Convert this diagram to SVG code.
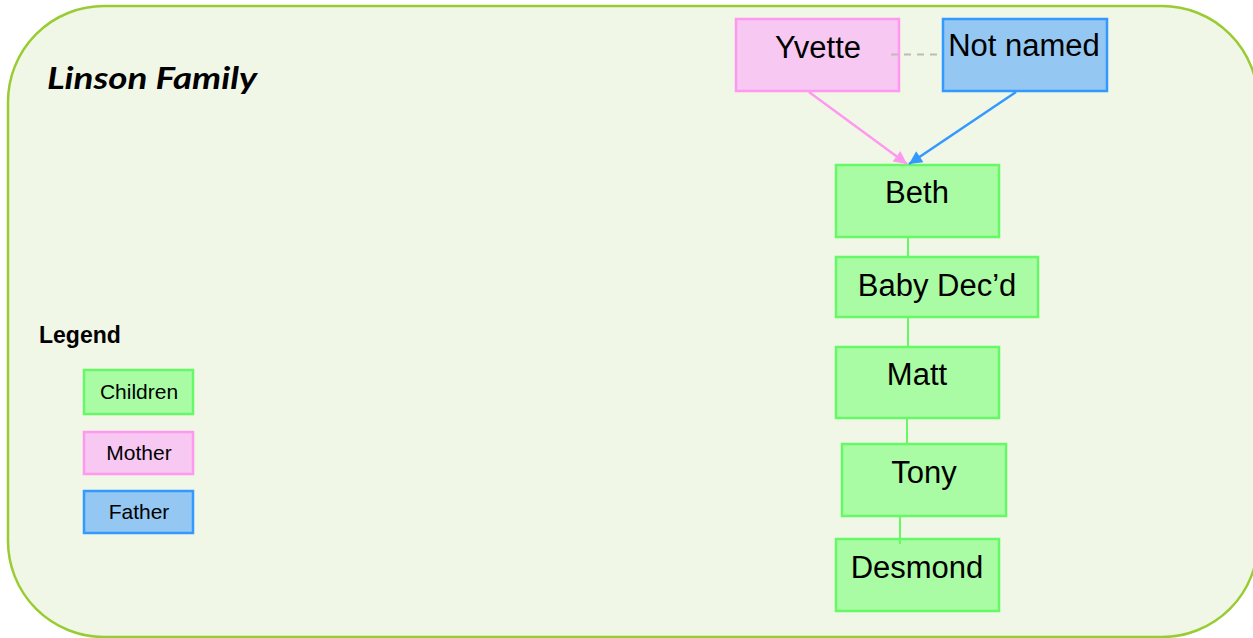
<svg xmlns="http://www.w3.org/2000/svg" width="1253" height="638" viewBox="0 0 1253 638">
<style>
.bg{fill:#f1f7e6;stroke:#99cc33;stroke-width:2.5}
.child{fill:#aafca4;stroke:#66f966;stroke-width:2.5}
.mother{fill:#f7c8f2;stroke:#ff99f0;stroke-width:2.5}
.father{fill:#94c8f2;stroke:#3399ff;stroke-width:2.5}
.t{font-family:"Liberation Sans",Arial,sans-serif;fill:#000;text-anchor:middle}
.big{font-size:31px}
.small{font-size:21px}
.link{stroke:#66f966;stroke-width:2;fill:none}
</style>
<defs>
<marker id="ap" viewBox="0 0 10 10" refX="10" refY="5" markerWidth="16" markerHeight="13" orient="auto" markerUnits="userSpaceOnUse"><path d="M0,0 L10,5 L0,10 z" fill="#ff99f0"/></marker>
<marker id="ab" viewBox="0 0 10 10" refX="10" refY="5" markerWidth="16" markerHeight="13" orient="auto" markerUnits="userSpaceOnUse"><path d="M0,0 L10,5 L0,10 z" fill="#3399ff"/></marker>
</defs>
<rect class="bg" x="8" y="6" width="1250" height="631" rx="96" ry="96"/>
<text x="47" y="89" font-family="Lato,'Open Sans',sans-serif" font-weight="bold" font-style="italic" font-size="30" textLength="210" lengthAdjust="spacingAndGlyphs">Linson Family</text>
<g id="yvette"><rect class="mother" x="736" y="19" width="163" height="72"/><text class="t big" x="818" y="58">Yvette</text></g>
<g id="notnamed"><rect class="father" x="943" y="19" width="164" height="72"/><text class="t big" x="1024" y="56">Not named</text></g>
<g id="beth"><rect class="child" x="836" y="165" width="163" height="72"/><text class="t big" x="917" y="203">Beth</text></g>
<g id="baby"><rect class="child" x="836" y="257" width="202" height="60"/><text class="t big" x="937" y="296">Baby Dec’d</text></g>
<g id="matt"><rect class="child" x="836" y="347" width="163" height="71"/><text class="t big" x="917" y="385">Matt</text></g>
<g id="tony"><rect class="child" x="842" y="444" width="164" height="72"/><text class="t big" x="924" y="483">Tony</text></g>
<g id="desmond"><rect class="child" x="836" y="539" width="163" height="72"/><text class="t big" x="917" y="578">Desmond</text></g>
<g id="connectors">
<line x1="891" y1="54.5" x2="943" y2="54.5" stroke="#bbbbbb" stroke-width="2" stroke-dasharray="7,6"/>
<line x1="809" y1="92" x2="907" y2="164" stroke="#ff99f0" stroke-width="2.5" marker-end="url(#ap)"/>
<line x1="1016" y1="92" x2="909" y2="164" stroke="#3399ff" stroke-width="2.5" marker-end="url(#ab)"/>
<line class="link" x1="908" y1="238" x2="908" y2="256"/>
<line class="link" x1="908" y1="318" x2="908" y2="346"/>
<line class="link" x1="907" y1="419" x2="907" y2="443"/>
<line class="link" x1="900" y1="517" x2="900" y2="544"/>
</g>
<g id="legend">
<text x="39" y="343" font-family="'Liberation Sans',Arial,sans-serif" font-weight="bold" font-size="23">Legend</text>
<g id="leg-children"><rect class="child" x="84" y="370" width="109" height="44"/><text class="t small" x="139" y="399">Children</text></g>
<g id="leg-mother"><rect class="mother" x="84" y="432" width="109" height="42"/><text class="t small" x="139" y="460">Mother</text></g>
<g id="leg-father"><rect class="father" x="84" y="491" width="109" height="42"/><text class="t small" x="139" y="519">Father</text></g>
</g>
</svg>
